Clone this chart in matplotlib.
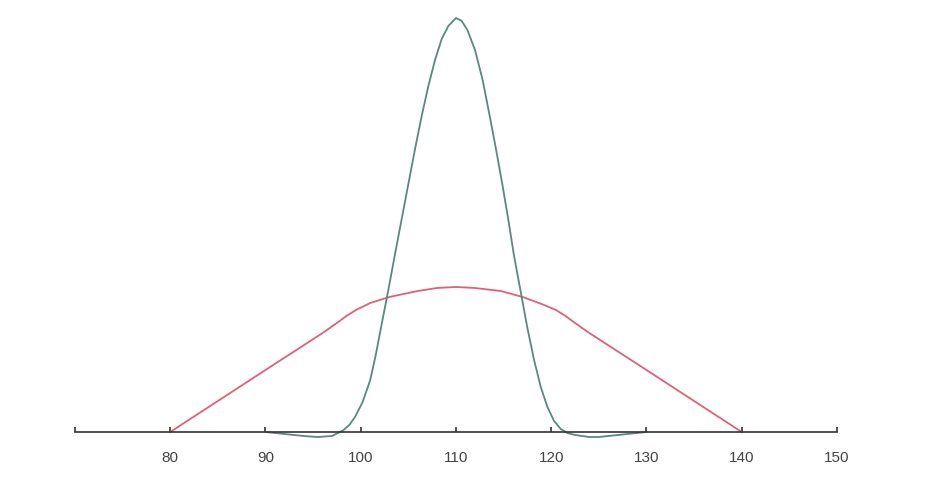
import numpy as np
import matplotlib.pyplot as plt

plt.rcParams['font.family'] = ['Liberation Sans', 'DejaVu Sans']

# narrow curve (teal)
green_x = [90, 92, 94, 95.5, 97, 98.2, 98.8, 99.4, 100.2, 101.0, 101.6, 102.2,
           102.9, 103.6, 104.3, 105.0, 105.7, 106.4, 107.1, 107.8, 108.5, 109.2,
           110, 110.6, 111.2, 112.0, 112.8, 113.5, 114.2, 114.9, 115.5, 116.1,
           116.8, 117.5, 118.2, 118.9, 119.6, 120.3, 121.0, 121.7, 122.5, 124,
           125, 127, 129, 130]
green_y = [0, -0.02, -0.04, -0.05, -0.04, 0.02, 0.07, 0.15, 0.30, 0.52, 0.78, 1.08,
           1.42, 1.78, 2.13, 2.48, 2.83, 3.16, 3.46, 3.72, 3.93, 4.06,
           4.14, 4.11, 4.02, 3.82, 3.52, 3.18, 2.83, 2.46, 2.12, 1.76,
           1.40, 1.04, 0.72, 0.45, 0.25, 0.11, 0.03, -0.01, -0.03, -0.05,
           -0.05, -0.03, -0.01, 0]

# wide curve (red)
red_x = [80, 90, 96, 97.5, 98.5, 99.5, 101, 103, 106, 108, 110, 112, 114.7,
         117, 119, 120.5, 121.5, 122.5, 124, 130, 140]
red_y = [0, 0.62, 0.99, 1.09, 1.16, 1.22, 1.29, 1.35, 1.41, 1.44, 1.45, 1.44, 1.41,
         1.35, 1.28, 1.22, 1.16, 1.09, 0.99, 0.62, 0]

ticks = [70, 80, 90, 100, 110, 120, 130, 140, 150]
tick_labels = ['', '80', '90', '100', '110', '120', '130', '140', '150']

fig = plt.figure(figsize=(9.42, 4.78), dpi=100)
ax = fig.add_axes([0.0796, 0.0795, 0.8089, 0.8996])

ax.plot(red_x, red_y, color='#e0607a', lw=1.3)
ax.plot(green_x, green_y, color='#5a8880', lw=1.3)

ax.set_xlim(70, 150)
ax.set_ylim(-0.08, 4.22)

for s in ['top', 'right', 'left']:
    ax.spines[s].set_visible(False)
ax.spines['bottom'].set_position(('data', 0))
ax.spines['bottom'].set_color('#333333')
ax.spines['bottom'].set_linewidth(1.2)

ax.set_yticks([])
ax.set_xticks(ticks)
ax.set_xticklabels(tick_labels)
ax.tick_params(axis='x', direction='in', length=3.5, width=1.2, color='#333333',
               pad=14, labelsize=11, labelcolor='#444444')

fig.savefig('out.png', dpi=100)
